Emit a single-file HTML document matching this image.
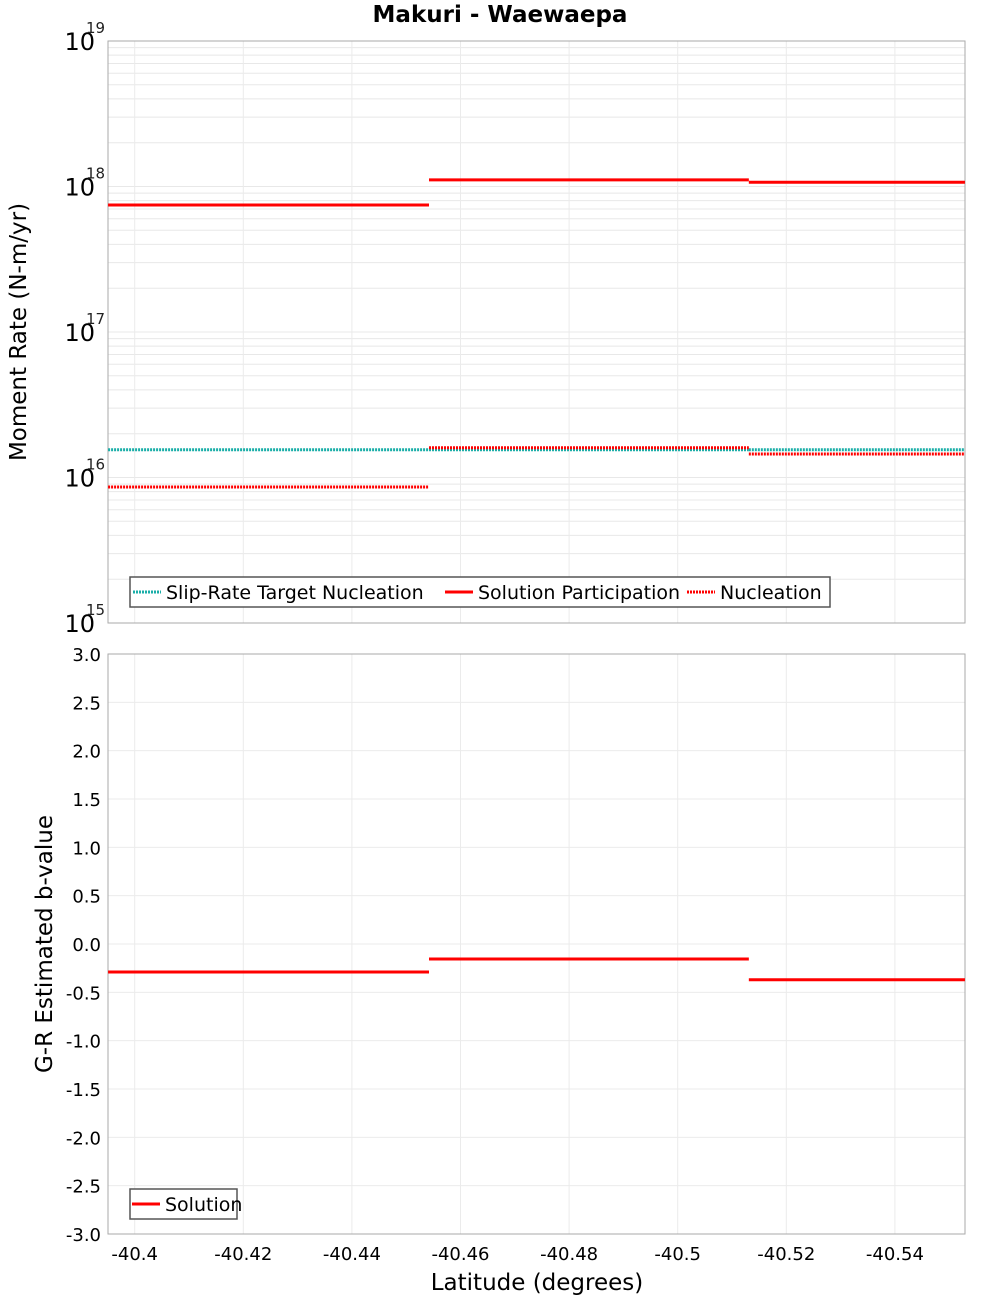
<!DOCTYPE html>
<html><head><meta charset="utf-8"><style>
body{margin:0;background:#fff;}
svg{display:block;font-family:"DejaVu Sans","Liberation Sans",sans-serif;}
</style></head><body>
<svg id="c" width="1000" height="1300" xmlns="http://www.w3.org/2000/svg">
<text x="500" y="22" text-anchor="middle" font-size="23" font-weight="bold">Makuri - Waewaepa</text>
<g id="top"></g>
<g id="bot"></g>
<text transform="translate(26,332) rotate(-90)" text-anchor="middle" font-size="23">Moment Rate (N-m/yr)</text>
<text transform="translate(52,944) rotate(-90)" text-anchor="middle" font-size="23">G-R Estimated b-value</text>
<text x="537" y="1290" text-anchor="middle" font-size="23">Latitude (degrees)</text>
</svg>
<script>
const segStarts = [-40.3951, -40.4542, -40.5131];
const segEnds = [-40.4542, -40.5131, -40.5529];
const targetNucleation = [1.55e16, 1.55e16, 1.55e16];
const solutionParticipation = [7.46e17, 1.11e18, 1.07e18];
const nucleation = [8.6e15, 1.6e16, 1.45e16];
const bValues = [-0.29, -0.155, -0.37];
const xTicks = [-40.4, -40.42, -40.44, -40.46, -40.48, -40.5, -40.52, -40.54];
const xTickLabels = ["-40.4","-40.42","-40.44","-40.46","-40.48","-40.5","-40.52","-40.54"];
const logTicks = [15, 16, 17, 18, 19];
const bTicks = [3,2.5,2,1.5,1,0.5,0,-0.5,-1,-1.5,-2,-2.5,-3];

const NS="http://www.w3.org/2000/svg";
const L=108,R=965,T1=41,B1=623,T2=654,B2=1234;
const xS=lat=>460.5+(-40.46-lat)*5430;
const yLog=v=>B1-(Math.log10(v)-15)*(B1-T1)/4;
const yB=v=>T2+(3-v)*(B2-T2)/6;
function el(p,tag,a){const e=document.createElementNS(NS,tag);for(const k in a)e.setAttribute(k,a[k]);p.appendChild(e);return e;}
const topG=document.getElementById('top'), botG=document.getElementById('bot');

for(let d=15;d<19;d++)for(let m=1;m<10;m++){const y=yLog(m*Math.pow(10,d));
 const g=el(topG,'line',{x1:L,x2:R,y1:y,y2:y,stroke:'#e8e8e8','stroke-width':1});
 
 }
bTicks.forEach(v=>{const y=yB(v);
 const g=el(botG,'line',{x1:L,x2:R,y1:y,y2:y,stroke:'#ebebeb','stroke-width':1});
 
 
 const t=el(botG,'text',{x:101,y:y+7,'text-anchor':'end','font-size':18});t.textContent=v.toFixed(1);
 
 });
xTicks.forEach((v,i)=>{const x=xS(v);
 [[topG,T1,B1],[botG,T2,B2]].forEach(([p,a,b])=>{const g=el(p,'line',{x1:x,x2:x,y1:a,y2:b,stroke:'#ebebeb','stroke-width':1});
 
 });
 const t=el(botG,'text',{x:x,y:1260,'text-anchor':'middle','font-size':18});t.textContent=xTickLabels[i];
 
 });
logTicks.forEach(d=>{const y=yLog(Math.pow(10,d));
 const t=el(topG,'text',{x:95,y:y+9,'text-anchor':'end','font-size':24});t.textContent='10';
 
 
 const s=el(topG,'text',{x:86,y:y-8,'font-size':15,fill:'#222'});s.textContent=String(d);
 
 });
[[topG,T1,B1],[botG,T2,B2]].forEach(([p,a,b])=>{const r=el(p,'rect',{x:L,y:a,width:R-L,height:b-a,fill:'none',stroke:'#aaa','stroke-width':1});
 
 });

function series(p,vals,yf,color,dash,name){
 vals.forEach((v,i)=>{const y=yf(v);
  const a={x1:xS(segStarts[i]),x2:xS(segEnds[i]),y1:y,y2:y,stroke:color,'stroke-width':3};
  if(dash)a['stroke-dasharray']=dash;
  const l=el(p,'line',a);
  
  });}
series(topG,targetNucleation,yLog,'#1aaea8','2,1','target-nucleation-segment');
series(topG,solutionParticipation,yLog,'#f00','','solution-participation-segment');
series(topG,nucleation,yLog,'#f00','2,1','nucleation-segment');
series(botG,bValues,yB,'#f00','','b-value-segment');

function legend(p,x,y,w,items){
 const g=el(p,'g',{});
 
 
 el(g,'rect',{x:x,y:y,width:w,height:30,fill:'#fff',stroke:'#555','stroke-width':1.5});
 items.forEach(it=>{const l=el(g,'line',{x1:it[0],x2:it[0]+28,y1:y+15,y2:y+15,stroke:it[2],'stroke-width':3});
  if(it[3])l.setAttribute('stroke-dasharray',it[3]);
  
  
  const t=el(g,'text',{x:it[0]+33,y:y+22,'font-size':19});t.textContent=it[1];
  
  });}
legend(topG,130,577,700,[[133,'Slip-Rate Target Nucleation','#1aaea8','2,1'],[445,'Solution Participation','#f00',''],[687,'Nucleation','#f00','2,1']]);
legend(botG,130,1189,107,[[132,'Solution','#f00','']]);
</script>
</body></html>
